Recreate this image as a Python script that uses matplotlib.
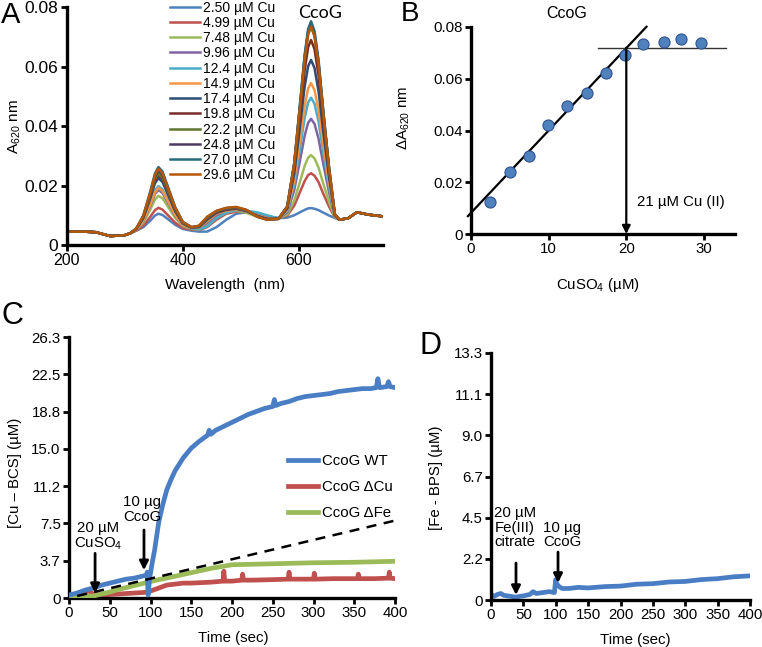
import numpy as np
import matplotlib
matplotlib.use("Agg")
import matplotlib.pyplot as plt

plt.rcParams['font.family'] = ['Liberation Sans', 'DejaVu Sans']
plt.rcParams['mathtext.fontset'] = 'custom'
plt.rcParams['mathtext.rm'] = 'Liberation Sans'
plt.rcParams['mathtext.it'] = 'Liberation Sans:italic'
plt.rcParams['mathtext.bf'] = 'Liberation Sans:bold'

# ------------------------------------------------------
# Panel A: UV-vis spectra during Cu titration
# ------------------------------------------------------
conc_labels = ["2.50", "4.99", "7.48", "9.96", "12.4", "14.9",
               "17.4", "19.8", "22.2", "24.8", "27.0", "29.6"]
spec_colors = ["#4F81BD", "#C0504D", "#9BBB59", "#8064A2", "#4BACC6", "#F79646",
               "#2C4D75", "#772C2A", "#5F7530", "#4D3B62", "#276A7C", "#B65708"]

wl_front = [200, 230, 250, 275, 300, 310]
abs_front = [0.0045, 0.0045, 0.0043, 0.0030, 0.0033, 0.0040]

wl_mid = [320, 332, 344, 352, 358, 365, 375, 387, 400,
          415, 428, 442, 458, 475, 492, 510, 528, 545, 565,
          580, 592, 602, 610, 616, 621, 627, 634, 642, 652, 662]
abs_mid = [
    [.0048, .0060, .0082, .0099, .0105, .0101, .0086, .0068, .0054,
     .0048, .0045, .0045, .0060, .0085, .0105, .0110, .0105, .0097, .0090,
     .0092, .0100, .0110, .0118, .0123, .0124, .0122, .0117, .0109, .0099, .0091],
    [.0049, .0065, .0095, .0117, .0125, .0119, .0099, .0075, .0057,
     .0052, .0050, .0060, .0085, .0105, .0112, .0110, .0100, .0092, .0090,
     .0099, .0132, .0178, .0215, .0235, .0241, .0233, .0211, .0173, .0129, .0093],
    [.0051, .0075, .0119, .0153, .0165, .0157, .0127, .0091, .0063,
     .0054, .0052, .0070, .0095, .0110, .0115, .0108, .0095, .0088, .0089,
     .0103, .0149, .0213, .0266, .0294, .0302, .0291, .0260, .0207, .0145, .0094],
    [.0052, .0080, .0132, .0171, .0185, .0175, .0140, .0098, .0066,
     .0055, .0055, .0075, .0100, .0112, .0118, .0112, .0100, .0090, .0089,
     .0110, .0184, .0284, .0367, .0411, .0424, .0407, .0357, .0274, .0177, .0097],
    [.0053, .0083, .0140, .0183, .0198, .0187, .0149, .0103, .0068,
     .0056, .0052, .0062, .0090, .0108, .0118, .0115, .0110, .0100, .0090,
     .0114, .0203, .0325, .0426, .0479, .0495, .0475, .0414, .0313, .0195, .0098],
    [.0052, .0082, .0136, .0177, .0192, .0182, .0145, .0101, .0067,
     .0057, .0058, .0080, .0105, .0115, .0120, .0114, .0100, .0090, .0089,
     .0117, .0217, .0353, .0467, .0526, .0544, .0521, .0453, .0340, .0208, .0099],
    [.0054, .0090, .0157, .0207, .0225, .0212, .0167, .0113, .0072,
     .0058, .0060, .0085, .0108, .0118, .0122, .0115, .0098, .0088, .0088,
     .0122, .0239, .0399, .0532, .0601, .0622, .0595, .0516, .0383, .0228, .0100],
    [.0055, .0093, .0163, .0216, .0235, .0222, .0174, .0117, .0074,
     .0059, .0062, .0088, .0110, .0120, .0123, .0115, .0097, .0087, .0088,
     .0126, .0258, .0437, .0587, .0665, .0689, .0659, .0569, .0419, .0246, .0102],
    [.0055, .0094, .0166, .0221, .0240, .0226, .0178, .0119, .0074,
     .0059, .0063, .0090, .0112, .0122, .0125, .0116, .0096, .0086, .0088,
     .0129, .0271, .0464, .0625, .0709, .0735, .0703, .0606, .0445, .0258, .0103],
    [.0055, .0096, .0172, .0230, .0250, .0236, .0184, .0123, .0076,
     .0060, .0064, .0092, .0113, .0123, .0126, .0117, .0096, .0086, .0088,
     .0129, .0273, .0470, .0634, .0719, .0745, .0712, .0614, .0450, .0260, .0103],
    [.0056, .0099, .0180, .0240, .0262, .0247, .0193, .0127, .0078,
     .0060, .0064, .0093, .0114, .0124, .0127, .0117, .0096, .0085, .0088,
     .0130, .0275, .0474, .0639, .0726, .0752, .0719, .0620, .0454, .0262, .0103],
    [.0056, .0098, .0176, .0235, .0256, .0241, .0188, .0125, .0077,
     .0060, .0065, .0095, .0115, .0125, .0128, .0118, .0095, .0085, .0088,
     .0129, .0270, .0464, .0625, .0708, .0734, .0702, .0605, .0444, .0257, .0103],
]

wl_tail = [670, 685, 700, 720, 750]
abs_tail = [0.0085, 0.0090, 0.0110, 0.0102, 0.0095]

# ------------------------------------------------------
# Panel B: titration at 620 nm
# ------------------------------------------------------
cu_added = [2.50, 4.99, 7.48, 9.96, 12.4, 14.9, 17.4, 19.8, 22.2, 24.8, 27.0, 29.6]
delta_a620 = [0.0125, 0.0241, 0.0303, 0.0421, 0.0495, 0.0546,
              0.0623, 0.0692, 0.0734, 0.0743, 0.0755, 0.0737]
fit_x = [-0.4, 22.6]
fit_y = [0.0069, 0.0801]
plat_x = [16.3, 32.8]
plat_y = [0.072, 0.072]

# ------------------------------------------------------
# Panel C: Cu release (Cu-BCS)
# ------------------------------------------------------
t_wt = [0, 10, 20, 30, 40, 50, 60, 70, 80, 90, 95, 96, 97, 99, 102, 105, 110, 115,
        120, 125, 130, 140, 150, 160, 170, 172, 174, 180, 190, 200, 210, 220, 230,
        240, 250, 252, 254, 260, 270, 280, 290, 300, 310, 320, 330, 340, 350, 360,
        370, 377, 379, 381, 390, 392, 394, 400]
cu_wt = [0.3, 0.5, 0.8, 1.0, 1.3, 1.5, 1.7, 1.9, 2.0, 2.2, 2.3, 2.6, 0.3, 2.0, 3.5, 4.8, 7.6, 9.4,
         10.9, 11.9, 12.8, 14.1, 15.1, 15.8, 16.4, 16.9, 16.5, 16.9, 17.3, 17.7, 18.1, 18.5, 18.8,
         19.1, 19.3, 20.0, 19.4, 19.6, 19.8, 20.1, 20.3, 20.4, 20.5, 20.6, 20.8, 20.9, 21.0, 21.1,
         21.1, 21.2, 22.1, 21.2, 21.3, 21.8, 21.3, 21.2]

t_dcu = [0, 10, 20, 25, 27, 30, 40, 50, 60, 70, 80, 90, 98, 100, 110, 120, 130, 140,
         150, 175, 189, 190, 191, 200, 212, 213, 214, 225, 250, 269, 270, 271, 300, 301,
         302, 325, 354, 355, 356, 375, 392, 393, 394, 400]
cu_dcu = [0.2, 0.3, 0.5, 0.9, 0.5, 0.4, 0.3, 0.35, 0.4, 0.45, 0.5, 0.55, 0.6, 0.7, 1.0, 1.3, 1.4, 1.5,
          1.5, 1.6, 1.7, 2.7, 1.7, 1.7, 1.8, 2.4, 1.8, 1.8, 1.85, 1.9, 2.6, 1.9, 1.9, 2.5,
          1.9, 1.95, 1.95, 2.4, 1.95, 1.95, 2.0, 2.6, 2.0, 1.95]

t_dfe = [0, 15, 30, 40, 50, 60, 75, 90, 100, 110, 125, 150, 175, 200, 225, 250, 275, 300, 350, 400]
cu_dfe = [0.1, 0.15, 0.2, 0.4, 0.6, 0.85, 1.15, 1.45, 1.65, 1.85, 2.1, 2.55, 3.0, 3.35,
          3.4, 3.45, 3.5, 3.55, 3.6, 3.7]

t_ref = [10, 400]
cu_ref = [0.2, 7.8]

c_ticks = [0, 3.757, 7.514, 11.27, 15.03, 18.79, 22.54, 26.3]
c_ticklabels = ["0", "3.7", "7.5", "11.2", "15.0", "18.8", "22.5", "26.3"]

# ------------------------------------------------------
# Panel D: Fe release (Fe-BPS)
# ------------------------------------------------------
t_fe = [0, 5, 10, 15, 20, 30, 38, 45, 50, 60, 65, 70, 80, 90, 98, 99, 100, 101, 103,
        106, 110, 120, 135, 150, 175, 200, 225, 250, 275, 300, 325, 350, 375, 400]
fe_bps = [0.3, 0.2, 0.3, 0.35, 0.25, 0.2, 0.15, 0.2, 0.22, 0.3, 0.45, 0.35, 0.4, 0.45, 0.4, 0.8,
          1.1, 0.9, 0.8, 0.7, 0.62, 0.62, 0.68, 0.65, 0.72, 0.75, 0.85, 0.88, 0.97, 1.0, 1.1,
          1.15, 1.25, 1.3]

d_ticks = [0, 2.217, 4.433, 6.65, 8.867, 11.08, 13.3]
d_ticklabels = ["0", "2.2", "4.5", "6.7", "9.0", "11.1", "13.3"]

# ------------------------------------------------------
# Layout
# ------------------------------------------------------
W, H = 762, 647
fig = plt.figure(figsize=(W / 100, H / 100), dpi=100)


def box(l, t, r, b):
    return [l / W, 1 - b / H, (r - l) / W, (b - t) / H]


def ftext(x, y, s, **kw):
    fig.text(x / W, 1 - y / H, s, ha='center', va='center', **kw)


def style(ax):
    for s in ['top', 'right']:
        ax.spines[s].set_visible(False)
    for s in ['left', 'bottom']:
        ax.spines[s].set_linewidth(2.4)
    ax.tick_params(direction='out', length=4, width=2, labelsize=10.8, pad=2)


axA = fig.add_axes(box(66.7, 7, 383, 245))
axB = fig.add_axes(box(471, 27, 735, 234))
axC = fig.add_axes(box(69, 337, 395, 598))
axD = fig.add_axes(box(491, 353, 750, 600))

# --- A ---
for lab, col, vals in zip(conc_labels, spec_colors, abs_mid):
    wl = wl_front + wl_mid + wl_tail
    ab = abs_front + vals + abs_tail
    axA.plot(wl, ab, color=col, lw=1.8, label=f"{lab} µM Cu")
axA.set_xlim(200, 745)
axA.set_ylim(0, 0.08)
axA.set_xticks([200, 400, 600])
axA.set_yticks([0, 0.02, 0.04, 0.06, 0.08])
axA.set_yticklabels(["0", "0.02", "0.04", "0.06", "0.08"])
style(axA)
axA.tick_params(axis='y', labelsize=12.5)
axA.tick_params(axis='x', labelsize=11.5)
axA.legend(loc='upper left', bbox_to_anchor=(0.3266, 1.027), frameon=False, fontsize=10,
           borderpad=0, borderaxespad=0, handlelength=2.15, handletextpad=0.2,
           labelspacing=0.09)
ftext(11, 15, "A", fontsize=21)
ftext(320, 13, "CcoG", fontsize=13, family=['Lato', 'DejaVu Sans'])
ftext(15, 127, r"A$_{\mathregular{620}}$ nm", fontsize=11, rotation=90)
ftext(225, 285, "Wavelength  (nm)", fontsize=11)

# --- B ---
axB.plot(fit_x, fit_y, color='black', lw=1.6, clip_on=False)
axB.plot(plat_x, plat_y, color='#333333', lw=1.0)
axB.scatter(cu_added, delta_a620, s=64, color='#4F81BD', edgecolor='#2F528F',
            linewidth=0.8, zorder=3)
axB.annotate("", xy=(20, 0), xytext=(20, 0.072),
             arrowprops=dict(arrowstyle='-|>', color='black', lw=1.6,
                             mutation_scale=12, shrinkA=0, shrinkB=0))
axB.text(21.4, 0.0122, "21 µM Cu (II)", fontsize=10.8, va='center', ha='left')
axB.set_xlim(0, 34)
axB.set_ylim(0, 0.08)
axB.set_xticks([0, 10, 20, 30])
axB.set_yticks([0, 0.02, 0.04, 0.06, 0.08])
axB.set_yticklabels(["0", "0.02", "0.04", "0.06", "0.08"])
style(axB)
ftext(410, 14, "B", fontsize=20)
ftext(567, 13, "CcoG", fontsize=11.5)
ftext(404, 118, r"ΔA$_{\mathregular{620}}$ nm", fontsize=10.8, rotation=90)
ftext(598, 285, r"CuSO$_{\mathregular{4}}$ (µM)", fontsize=10.8)

# --- C ---
axC.plot(t_ref, cu_ref, color='black', lw=1.8, ls=(0, (4, 3)), zorder=4)
axC.plot(t_dfe, cu_dfe, color='#9BBB59', lw=3.4, label="CcoG ΔFe", zorder=3)
axC.plot(t_dcu, cu_dcu, color='#C0504D', lw=3.4, label="CcoG ΔCu", zorder=2)
axC.plot(t_wt, cu_wt, color='#4A7EC4', lw=3.4, label="CcoG WT", zorder=3)
handles, labels = axC.get_legend_handles_labels()
order = [2, 1, 0]
axC.legend([handles[i] for i in order], [labels[i] for i in order],
           loc='upper left', bbox_to_anchor=(0.672, 0.55), frameon=False, fontsize=10.8,
           borderpad=0, borderaxespad=0, handlelength=2.0, handletextpad=0.25,
           labelspacing=0.8)
axC.annotate("", xy=(32, 0.5), xytext=(32, 4.5),
             arrowprops=dict(arrowstyle='-|>', color='black', lw=2,
                             mutation_scale=13, shrinkA=0, shrinkB=0), zorder=6)
axC.annotate("", xy=(92, 2.8), xytext=(92, 6.85),
             arrowprops=dict(arrowstyle='-|>', color='black', lw=2,
                             mutation_scale=13, shrinkA=0, shrinkB=0), zorder=6)
axC.text(35.6, 6.2, "20 µM\nCuSO$_{\\mathregular{4}}$", fontsize=10.8, ha='center',
         va='center', linespacing=1.05)
axC.text(89.6, 8.9, "10 µg\nCcoG", fontsize=10.8, ha='center', va='center',
         linespacing=1.05)
axC.set_xlim(0, 400)
axC.set_ylim(0, 26.3)
axC.set_xticks(range(0, 401, 50))
axC.set_yticks(c_ticks)
axC.set_yticklabels(c_ticklabels)
style(axC)
ftext(12, 316, "C", fontsize=22)
ftext(15, 473, "[Cu – BCS] (µM)", fontsize=10.8, rotation=90)
ftext(233, 638, "Time (sec)", fontsize=10.8)

# --- D ---
axD.plot(t_fe, fe_bps, color='#4A7EC4', lw=3.4)
axD.annotate("", xy=(38.6, 0.27), xytext=(38.6, 1.99),
             arrowprops=dict(arrowstyle='-|>', color='black', lw=2,
                             mutation_scale=13, shrinkA=0, shrinkB=0), zorder=6)
axD.annotate("", xy=(103.5, 0.92), xytext=(103.5, 2.58),
             arrowprops=dict(arrowstyle='-|>', color='black', lw=2,
                             mutation_scale=13, shrinkA=0, shrinkB=0), zorder=6)
axD.text(37, 3.88, "20 µM\nFe(III)\ncitrate", fontsize=10.8, ha='center', va='center',
         linespacing=1.05)
axD.text(109.7, 3.5, "10 µg\nCcoG", fontsize=10.8, ha='center', va='center',
         linespacing=1.05)
axD.set_xlim(0, 400)
axD.set_ylim(0, 13.3)
axD.set_xticks(range(0, 401, 50))
axD.set_yticks(d_ticks)
axD.set_yticklabels(d_ticklabels)
style(axD)
ftext(430, 346, "D", fontsize=22)
ftext(436, 478, "[Fe - BPS] (µM)", fontsize=10.8, rotation=90)
ftext(635, 640, "Time (sec)", fontsize=10.8)

fig.savefig("out.png", dpi=100)
